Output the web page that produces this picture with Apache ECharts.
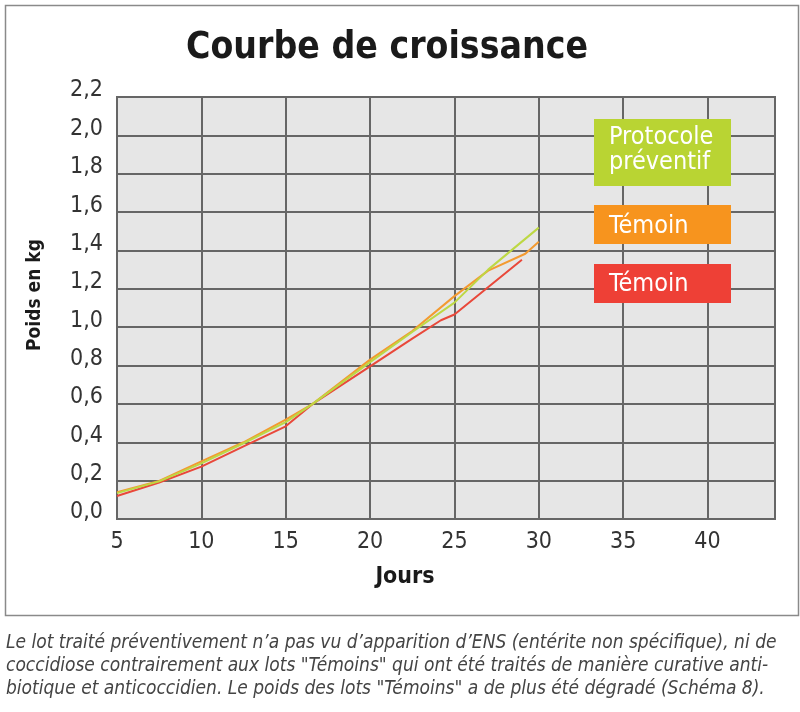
<!DOCTYPE html>
<html><head><meta charset="utf-8">
<script src="https://cdn.jsdelivr.net/npm/echarts@6/dist/echarts.min.js"></script>
<style>
html,body{margin:0;padding:0;background:#fff;}
#c{width:800px;height:712px;}
</style></head>
<body><div id="c"></div>
<script>
// ---- data ----
const xTicks = [5, 10, 15, 20, 25, 30, 35, 40];
const yTicks = ['0,0','0,2','0,4','0,6','0,8','1,0','1,2','1,4','1,6','1,8','2,0','2,2'];

const preventifDays   = [5, 7.5, 10, 12.5, 15, 16.6, 20, 22.5, 25, 27, 30];
const preventifPoids  = [0.135, 0.196, 0.29, 0.395, 0.505, 0.60, 0.818, 0.975, 1.128, 1.30, 1.519];

const temoinOrDays    = [5, 7.5, 10, 12.5, 15, 16.6, 20, 22.5, 25, 27, 29.2, 30];
const temoinOrPoids   = [0.14, 0.198, 0.30, 0.40, 0.518, 0.60, 0.831, 0.98, 1.162, 1.295, 1.383, 1.446];

const temoinRgDays    = [5, 7.5, 10, 12.5, 15, 16.6, 20, 22.5, 24.2, 25, 29];
const temoinRgPoids   = [0.12, 0.19, 0.273, 0.379, 0.483, 0.60, 0.796, 0.94, 1.036, 1.066, 1.352];

const legendLabels = ['Protocole\npréventif', 'Témoin', 'Témoin'];
const title = 'Courbe de croissance';
const caption = [
  'Le lot traité préventivement n\u2019a pas vu d\u2019apparition d\u2019ENS (entérite non spécifique), ni de',
  'coccidiose contrairement aux lots "Témoins" qui ont été traités de manière curative anti-',
  'biotique et anticoccidien. Le poids des lots "Témoins" a de plus été dégradé (Schéma 8).'
];

const C_GREEN = '#b9d433', C_ORANGE = '#f7941e', C_RED = '#ee4036';
const L_GREEN = '#bdd843', L_ORANGE = '#f39a30', L_RED = '#e9483a';
const FONT = "'DejaVu Sans Condensed', 'Liberation Sans Narrow', 'DejaVu Sans', sans-serif";

function pairs(xs, ys){ return xs.map((x,i)=>[x, ys[i]]); }

const chart = echarts.init(document.getElementById('c'));
chart.setOption({
  animation: false,
  backgroundColor: '#fff',
  textStyle: { fontFamily: FONT },
  title: {
    text: title, left: 382, top: 25, textAlign: 'center',
    textStyle: { fontFamily: FONT, fontWeight: 'bold', fontSize: 37, color: '#1a1a1a' }
  },
  grid: {
    left: 117, top: 97, right: 25, bottom: 193,
    containLabel: false, outerBoundsMode: 'none',
    show: true, backgroundColor: '#e6e6e6', borderColor: '#666', borderWidth: 2
  },
  xAxis: {
    type: 'value', min: 5, max: 44, interval: 5,
    name: 'Jours', nameLocation: 'middle', nameGap: 47,
    nameTextStyle: { fontFamily: FONT, fontWeight: 'bold', fontSize: 23, color: '#1a1a1a', padding: [0, 82, 0, 0] },
    axisLine: { show: false }, axisTick: { show: false },
    axisLabel: {
      margin: 12, fontSize: 23, color: '#333', fontFamily: FONT,
      formatter: v => (xTicks.indexOf(v) >= 0 ? String(v) : '')
    },
    splitLine: { show: true, lineStyle: { color: '#666', width: 2 } }
  },
  yAxis: {
    type: 'value', min: 0, max: 2.2, interval: 0.2,
    name: 'Poids en kg', nameLocation: 'middle', nameGap: 72, nameRotate: 90,
    nameTextStyle: { fontFamily: FONT, fontWeight: 'bold', fontSize: 19, color: '#1a1a1a', padding: [0, 0, 0, 26] },
    axisLine: { show: false }, axisTick: { show: false },
    axisLabel: {
      margin: 14, fontSize: 23, color: '#333', fontFamily: FONT,
      verticalAlign: 'bottom', lineHeight: 13,
      formatter: v => yTicks[Math.round(v / 0.2)] || ''
    },
    splitLine: { show: true, lineStyle: { color: '#666', width: 2 } }
  },
  series: [
    { type: 'line', name: 'Témoin rouge', data: pairs(temoinRgDays, temoinRgPoids), showSymbol: false,
      lineStyle: { color: L_RED, width: 2 }, z: 3 },
    { type: 'line', name: 'Témoin orange', data: pairs(temoinOrDays, temoinOrPoids), showSymbol: false,
      lineStyle: { color: L_ORANGE, width: 2 }, z: 4 },
    { type: 'line', name: 'Protocole préventif', data: pairs(preventifDays, preventifPoids), showSymbol: false,
      lineStyle: { color: L_GREEN, width: 2 }, z: 5 }
  ],
  graphic: [
    { type: 'rect', left: 3, top: 3, shape: { width: 793, height: 610 },
      style: { fill: 'none', stroke: '#8a8a8a', lineWidth: 1.5 }, z: -1 },
    { type: 'rect', left: 594, top: 119, shape: { width: 137, height: 67 }, style: { fill: C_GREEN }, z: 10 },
    { type: 'text', left: 609, top: 125, z: 11,
      style: { text: legendLabels[0], fill: '#fff', font: "25px " + FONT, lineHeight: 25 } },
    { type: 'rect', left: 594, top: 205, shape: { width: 137, height: 39 }, style: { fill: C_ORANGE }, z: 10 },
    { type: 'text', left: 609, top: 214, z: 11,
      style: { text: legendLabels[1], fill: '#fff', font: "25px " + FONT } },
    { type: 'rect', left: 594, top: 264, shape: { width: 137, height: 39 }, style: { fill: C_RED }, z: 10 },
    { type: 'text', left: 609, top: 272, z: 11,
      style: { text: legendLabels[2], fill: '#fff', font: "25px " + FONT } },
    { type: 'text', left: 6, top: 632, z: 11,
      style: { text: caption.join('\n'), fill: '#444', font: "italic 19px " + FONT, lineHeight: 23 } }
  ]
});
</script></body></html>
